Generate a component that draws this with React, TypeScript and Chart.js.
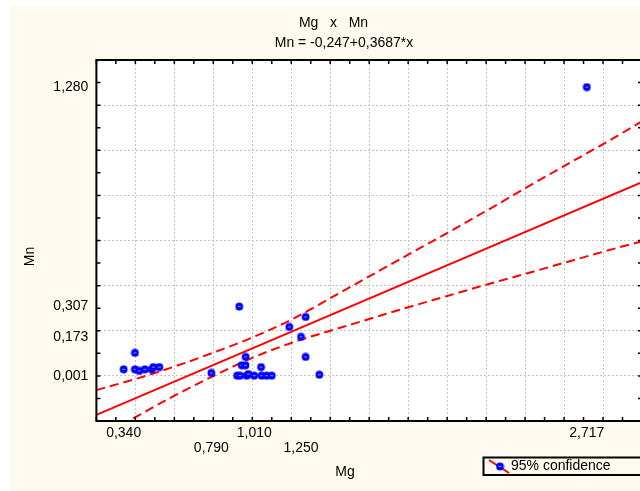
import { useEffect, useRef } from 'react';
import { Chart, registerables } from 'chart.js';

Chart.register(...registerables);

// ---- data ----
const mgValues = [0.34, 0.398, 0.398, 0.42, 0.449, 0.484, 0.492, 0.523, 0.79, 0.922, 0.937, 0.933, 0.946, 0.965, 0.966, 0.971, 0.98, 1.01, 1.045, 1.048, 1.074, 1.1, 1.19, 1.25, 1.274, 1.274, 1.344, 2.717];
const mnValues = [0.029, 0.102, 0.029, 0.022, 0.029, 0.029, 0.039, 0.039, 0.013, 0.001, 0.001, 0.307, 0.047, 0.047, 0.084, 0.001, 0.008, 0.001, 0.039, 0.001, 0.001, 0.001, 0.217, 0.173, 0.261, 0.084, 0.005, 1.28];

const fitX = [0.2, 3.0];
const fitY = [-0.173, 0.859];

const bandX = [0.2, 0.4, 0.6, 0.8, 1.0, 1.2, 1.4, 1.6, 1.8, 2.0, 2.2, 2.4, 2.6, 2.8, 3.0];
const bandUpper = [-0.063, -0.014, 0.041, 0.103, 0.17, 0.249, 0.344, 0.441, 0.537, 0.633, 0.731, 0.831, 0.93, 1.027, 1.128];
const bandLower = [-0.278, -0.183, -0.088, -0.001, 0.08, 0.146, 0.2, 0.252, 0.304, 0.354, 0.404, 0.452, 0.501, 0.55, 0.597];

const xTickValues = [0.34, 0.79, 1.01, 1.25, 2.717];
const xTickLabels = ['0,340', '0,790', '1,010', '1,250', '2,717'];
const yTickValues = [0.001, 0.173, 0.307, 1.28];
const yTickLabels = ['0,001', '0,173', '0,307', '1,280'];

const titleLines = ['Mg   x   Mn', 'Mn = -0,247+0,3687*x'];
const xTitle = 'Mg';
const yTitle = 'Mn';
const legendLabel = '95% confidence';

// ---- styling ----
const FONT = '"Liberation Sans", Arial, Helvetica, sans-serif';
const CREAM = '#FEFAEF';
const GRID = '#C4C4C4';
const RED = '#FF0000';
const BLUE = '#0000FF';

function makeMarker(): HTMLCanvasElement {
  const c = document.createElement('canvas');
  c.width = 9;
  c.height = 9;
  const g = c.getContext('2d')!;
  g.fillStyle = BLUE;
  g.beginPath();
  g.arc(4.5, 4.5, 3.9, 0, Math.PI * 2);
  g.fill();
  g.fillStyle = '#8C8CFF';
  g.fillRect(3, 4, 3, 1);
  return c;
}

const majorGrid = (min: number, max: number) => (ctx: any) => {
  const v = ctx.tick ? ctx.tick.value : NaN;
  const k = v / 0.2;
  const isMajor = Math.abs(k - Math.round(k)) < 1e-6;
  const edge = Math.abs(v - min) < 1e-6 || Math.abs(v - max) < 1e-6;
  return isMajor && !edge ? GRID : 'rgba(0,0,0,0)';
};

export default function App() {
  const ref = useRef<HTMLCanvasElement | null>(null);

  useEffect(() => {
    const canvas = ref.current;
    if (!canvas) return;
    const marker = makeMarker();

    const decor = {
      id: 'decor',
      beforeDraw(chart: any) {
        const { ctx, chartArea: a } = chart;
        ctx.save();
        ctx.fillStyle = '#FFFFFF';
        ctx.fillRect(0, 0, chart.width, chart.height);
        ctx.fillStyle = CREAM;
        ctx.fillRect(10, 6, chart.width - 10, chart.height - 6);
        ctx.fillStyle = '#FFFFFF';
        ctx.fillRect(a.left, a.top, a.right - a.left, a.bottom - a.top);
        ctx.restore();
      },
      afterDraw(chart: any) {
        const { ctx, chartArea: a } = chart;
        const xs = chart.scales.x;
        const ys = chart.scales.y;
        ctx.save();
        // inward minor ticks
        ctx.strokeStyle = '#000';
        ctx.lineWidth = 1.5;
        ctx.beginPath();
        xs.ticks.forEach((t: any) => {
          const px = xs.getPixelForValue(t.value);
          ctx.moveTo(px, a.top);
          ctx.lineTo(px, a.top + 4);
          ctx.moveTo(px, a.bottom);
          ctx.lineTo(px, a.bottom - 4);
        });
        ys.ticks.forEach((t: any) => {
          const py = ys.getPixelForValue(t.value);
          ctx.moveTo(a.left, py);
          ctx.lineTo(a.left + 4, py);
          ctx.moveTo(a.right, py);
          ctx.lineTo(a.right - 4, py);
        });
        ctx.stroke();
        // frame
        ctx.lineWidth = 2;
        ctx.strokeRect(a.left, a.top, a.right - a.left, a.bottom - a.top);

        // titles
        ctx.fillStyle = '#000';
        ctx.font = `14px ${FONT}`;
        ctx.textAlign = 'center';
        ctx.textBaseline = 'middle';
        ctx.fillText(titleLines[0], 333.5, 23);
        ctx.fillText(titleLines[1], 344, 43);
        ctx.fillText(xTitle, 345, 472);
        ctx.save();
        ctx.translate(30, 256.5);
        ctx.rotate(-Math.PI / 2);
        ctx.fillText(yTitle, 0, 0);
        ctx.restore();

        // legend
        ctx.fillStyle = CREAM;
        ctx.fillRect(483.5, 457.5, 200, 17.5);
        ctx.strokeStyle = '#000';
        ctx.lineWidth = 2;
        ctx.strokeRect(483.5, 457.5, 200, 17.5);
        ctx.strokeStyle = RED;
        ctx.lineWidth = 2;
        ctx.beginPath();
        ctx.moveTo(489, 460);
        ctx.lineTo(509, 473);
        ctx.stroke();
        ctx.drawImage(marker, 500 - 4.5, 466.5 - 4.5);
        ctx.fillStyle = '#000';
        ctx.textAlign = 'left';
        ctx.fillText(legendLabel, 511, 466.5);
        ctx.restore();
      },
    };

    const chart = new Chart(canvas, {
      type: 'scatter',
      data: {
        datasets: [
          {
            label: 'points',
            data: mgValues.map((x, i) => ({ x, y: mnValues[i] })),
            pointStyle: marker as any,
            pointRadius: 4,
            backgroundColor: BLUE,
            borderColor: BLUE,
            order: 0,
          },
          {
            label: 'fit',
            data: fitX.map((x, i) => ({ x, y: fitY[i] })),
            showLine: true,
            borderColor: RED,
            borderWidth: 2,
            pointRadius: 0,
            order: 1,
          },
          {
            label: 'upper',
            data: bandX.map((x, i) => ({ x, y: bandUpper[i] })),
            showLine: true,
            borderColor: RED,
            borderWidth: 2,
            borderDash: [9, 5],
            cubicInterpolationMode: 'monotone',
            pointRadius: 0,
            order: 2,
          },
          {
            label: 'lower',
            data: bandX.map((x, i) => ({ x, y: bandLower[i] })),
            showLine: true,
            borderColor: RED,
            borderWidth: 2,
            borderDash: [9, 5],
            cubicInterpolationMode: 'monotone',
            pointRadius: 0,
            order: 3,
          },
        ] as any,
      },
      options: {
        responsive: false,
        maintainAspectRatio: false,
        animation: false,
        layout: { padding: { top: 60, right: 18, left: 0, bottom: 0 } },
        plugins: {
          legend: { display: false },
          tooltip: { enabled: false },
          title: { display: false },
        },
        scales: {
          x: {
            type: 'linear',
            position: 'bottom',
            min: 0.2,
            max: 3.0,
            ticks: { display: false, stepSize: 0.1 },
            grid: { color: majorGrid(0.2, 3.0), drawTicks: false, lineWidth: 1 },
            border: { display: false, dash: [2, 2] },
            afterFit: (s: any) => {
              s.height = 0;
            },
          },
          xl: {
            type: 'linear',
            position: 'bottom',
            min: 0.2,
            max: 3.0,
            afterBuildTicks: (s: any) => {
              s.ticks = xTickValues.map((v) => ({ value: v }));
            },
            ticks: {
              autoSkip: false,
              maxRotation: 0,
              minRotation: 0,
              padding: 5,
              color: '#000',
              font: { size: 14, family: FONT, lineHeight: '15px' },
              callback: (_v: any, i: number) => (i % 2 === 0 ? xTickLabels[i] : ['', xTickLabels[i]]),
            },
            grid: { display: false, drawTicks: false },
            border: { display: false },
            afterFit: (s: any) => {
              s.height = 70;
            },
          },
          y: {
            type: 'linear',
            position: 'left',
            min: -0.2,
            max: 1.4,
            ticks: { display: false, stepSize: 0.1 },
            grid: { color: majorGrid(-0.2, 1.4), drawTicks: false, lineWidth: 1 },
            border: { display: false, dash: [2, 2] },
            afterFit: (s: any) => {
              s.width = 0;
            },
          },
          yl: {
            type: 'linear',
            position: 'left',
            min: -0.2,
            max: 1.4,
            afterBuildTicks: (s: any) => {
              s.ticks = yTickValues.map((v) => ({ value: v }));
            },
            ticks: {
              autoSkip: false,
              padding: 8,
              color: '#000',
              font: { size: 14, family: FONT },
              callback: (_v: any, i: number) => yTickLabels[i],
            },
            grid: { display: false, drawTicks: false },
            border: { display: false },
            afterFit: (s: any) => {
              s.width = 96.4;
            },
          },
        } as any,
      },
      plugins: [decor],
    });

    return () => {
      chart.destroy();
    };
  }, []);

  return (
    <div style={{ position: 'absolute', left: 0, top: 0, width: 640, height: 491, overflow: 'hidden' }}>
      <canvas ref={ref} width={660} height={491} style={{ display: 'block' }} />
    </div>
  );
}
